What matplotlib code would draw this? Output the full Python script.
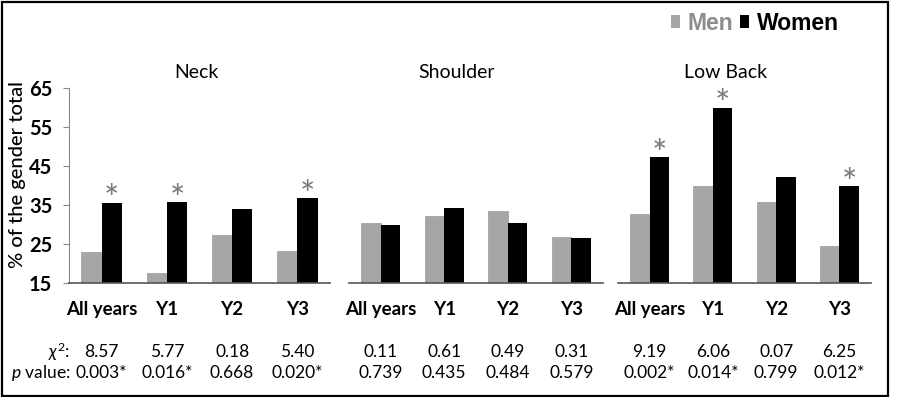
import matplotlib
matplotlib.use("Agg")
import matplotlib.pyplot as plt
from matplotlib.patches import Patch, Rectangle
from matplotlib.transforms import blended_transform_factory

plt.rcParams['font.family'] = ['Lato', 'DejaVu Sans']
plt.rcParams['mathtext.fontset'] = 'custom'
plt.rcParams['mathtext.rm'] = 'Lato'
plt.rcParams['mathtext.it'] = 'Lato:italic'

# data
regions = ['Neck', 'Shoulder', 'Low Back']
periods = ['All years', 'Y1', 'Y2', 'Y3']
men = [[23.0, 17.6, 27.4, 23.2],
       [30.5, 32.1, 33.4, 26.7],
       [32.7, 39.9, 35.8, 24.5]]
women = [[35.6, 35.7, 34.1, 36.7],
         [29.9, 34.2, 30.3, 26.5],
         [47.2, 60.0, 42.2, 39.8]]
signif = [[True, True, False, True],
          [False, False, False, False],
          [True, True, False, True]]
chi2 = [['8.57', '5.77', '0.18', '5.40'],
        ['0.11', '0.61', '0.49', '0.31'],
        ['9.19', '6.06', '0.07', '6.25']]
pvals = [['0.003*', '0.016*', '0.668', '0.020*'],
         ['0.739', '0.435', '0.484', '0.579'],
         ['0.002*', '0.014*', '0.799', '0.012*']]

W, H = 897, 397
MEN_C = '#a6a6a6'
WOMEN_C = '#000000'
STAR_C = '#7a7a7a'

fig = plt.figure(figsize=(W / 100, H / 100), dpi=100)

# panel extents in pixels
panels = [(69, 330), (349, 603), (618, 871)]
title_x = [196, 457, 726]
y_top, y_bot = 88, 283
bw = 0.31

for k, (x0, x1) in enumerate(panels):
    ax = fig.add_axes([x0 / W, 1 - y_bot / H, (x1 - x0) / W, (y_bot - y_top) / H])
    xs = list(range(len(periods)))
    ax.bar([x - bw / 2 for x in xs], men[k], bw, color=MEN_C, edgecolor='#9a9a9a', linewidth=0.5)
    ax.bar([x + bw / 2 for x in xs], women[k], bw, color=WOMEN_C)
    for i in xs:
        if signif[k][i]:
            ax.text(i + bw / 2, women[k][i] + 1.2, '*', ha='center', va='center_baseline',
                    fontsize=26, color=STAR_C)
    ax.set_xlim(-0.5, 3.5)
    ax.set_ylim(15, 65)
    ax.set_xticks(xs)
    ax.set_xticklabels(periods, fontsize=13.5, fontweight='bold')
    ax.tick_params(axis='x', length=0, pad=13)
    for s in ['top', 'right']:
        ax.spines[s].set_visible(False)
    ax.spines['bottom'].set_color('#555555')
    ax.spines['bottom'].set_linewidth(1.2)
    if k == 0:
        ax.set_yticks([15, 25, 35, 45, 55, 65])
        ax.tick_params(axis='y', labelsize=14.5, length=4, color='#888888', pad=8)
        for lab in ax.get_yticklabels():
            lab.set_fontweight('bold')
        ax.spines['left'].set_color('#888888')
    else:
        ax.spines['left'].set_visible(False)
        ax.set_yticks([])
    ax.set_facecolor('none')

    fig.text(title_x[k] / W, 1 - 73 / H, regions[k], ha='center', va='center', fontsize=14)

    tr = blended_transform_factory(ax.transData, fig.transFigure)
    for i in xs:
        ax.text(i, 1 - 352 / H, chi2[k][i], transform=tr, ha='center', va='center', fontsize=12.5)
        ax.text(i, 1 - 373 / H, pvals[k][i], transform=tr, ha='center', va='center', fontsize=12.5)

fig.text(18 / W, 1 - 175 / H, '% of the gender total', rotation=90, ha='center', va='center',
         fontsize=14.5, fontweight='medium')
fig.text(70 / W, 1 - 352 / H, r'$\it{\chi}^2$:', ha='right', va='center', fontsize=12.5)
fig.text(70 / W, 1 - 373 / H, r'$p$ value:', ha='right', va='center', fontsize=12.5)

handles = [Patch(facecolor=MEN_C), Patch(facecolor=WOMEN_C)]
fig.legend(handles, ['Men', 'Women'], loc='center right', bbox_to_anchor=(860 / W, 1 - 23 / H),
           ncol=2, frameon=False, handlelength=0.4, handleheight=0.5, handletextpad=0.35,
           columnspacing=0.3, labelcolor=['#8c8c8c', 'black'],
           prop={'family': 'Liberation Sans', 'weight': 'bold', 'size': 16.5})

fig.patches.append(Rectangle((1.5 / W, 1.5 / H), 886 / W, 394 / H, transform=fig.transFigure,
                             fill=False, edgecolor='black', linewidth=1.6))

fig.savefig('out.png', dpi=100)
